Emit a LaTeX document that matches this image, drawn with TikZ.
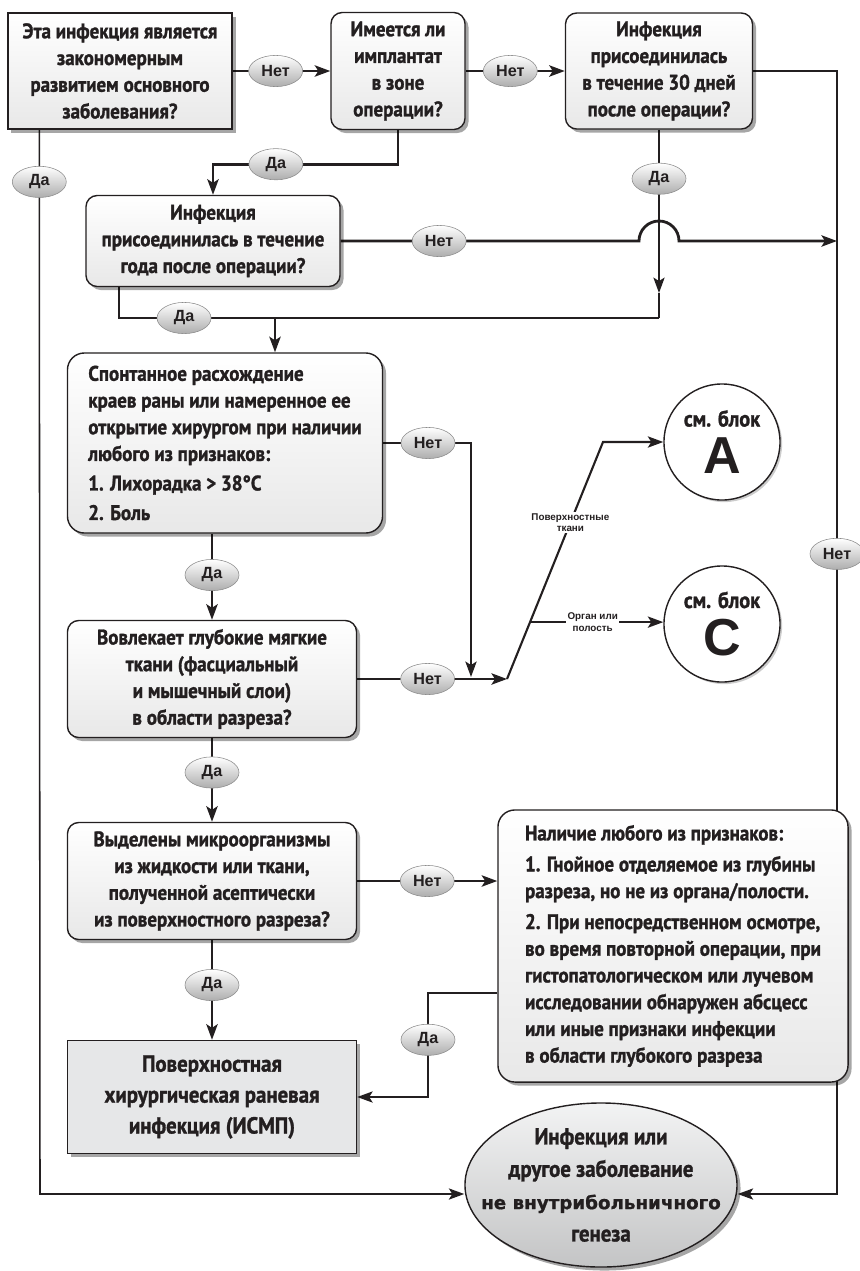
\documentclass[tikz,border=0pt]{standalone}
\usepackage{fontspec}
\newfontfamily\boxfont{PT Sans}[FakeStretch=0.9, FakeBold=1.3]
\newfontfamily\pillfont{Liberation Sans}
\newfontfamily\heavyfont{DejaVu Sans}[FakeBold=1]
\usetikzlibrary{arrows.meta, positioning, shapes.geometric, shadows, calc, backgrounds}
\definecolor{ink}{HTML}{231F20}
\definecolor{boxgray}{HTML}{E6E7E8}

\begin{document}
\begin{tikzpicture}[
  x=0.025cm, y=-0.025cm,
  boxshadow/.style={drop shadow={shadow xshift=2.5pt, shadow yshift=-2.5pt, fill=black, opacity=0.35}},
  qbox/.style={rectangle, draw=ink, line width=1pt, top color=white, bottom color=black!9, inner sep=0pt, align=center, text=ink, font=\boxfont\bfseries\fontsize{15}{19}\selectfont, boxshadow},
  rbox/.style={qbox, rounded corners=8pt},
  endnode/.style={ellipse, draw=ink, line width=1pt, top color=boxgray!50, bottom color=boxgray!85!black, inner xsep=-0.7cm, inner ysep=-0.5cm, align=center, text=ink, minimum width=6.8cm, minimum height=4.1cm, font=\boxfont\bfseries\fontsize{16.5}{23}\selectfont, boxshadow},
  refcirc/.style={circle, draw=ink, line width=1pt, fill=white, inner sep=0pt, minimum size=2.9cm, align=center, text=ink, font=\boxfont\bfseries\fontsize{16}{18}\selectfont, drop shadow={shadow xshift=1.5pt, shadow yshift=-1.5pt, fill=black, opacity=0.2}},
  pill/.style={ellipse, draw=black!45, line width=0.4pt, top color=white, bottom color=black!32, minimum width=1.35cm, minimum height=0.78cm, inner sep=0pt, text=ink, font=\pillfont\bfseries\fontsize{11.5}{12}\selectfont},
  tinylabel/.style={fill=white, inner sep=1pt, align=center, text=ink, font=\pillfont\bfseries\fontsize{7}{8}\selectfont},
  flowline/.style={draw=ink, line width=2pt},
  midline/.style={draw=ink, line width=1.5pt},
  thinline/.style={draw=ink, line width=1.1pt},
  arrowed/.style={-{Stealth[length=11pt, width=8pt, inset=2.5pt]}},
]
\useasboundingbox (0,0) rectangle (860,1271);

% Top row of questions
\node[qbox, minimum width=5.6cm, minimum height=2.9cm] (origin) at (120,71) {Эта инфекция является\\закономерным\\развитием основного\\заболевания?};
\node[rbox, minimum width=3.35cm, minimum height=2.925cm] (implant) at (398,71) {Имеется ли\\имплантат\\в зоне\\операции?};
\node[rbox, minimum width=4.675cm, minimum height=2.9cm] (month) at (659,71) {Инфекция\\присоединилась\\в течение 30 дней\\после операции?};

% Middle column
\node[rbox, minimum width=6.35cm, minimum height=2.275cm] (year) at (213,241) {Инфекция\\присоединилась в течение\\года после операции?};
\node[rbox, rounded corners=12pt, align=left, minimum width=7.875cm, minimum height=4.5cm] (wound) at (225,443) {Спонтанное расхождение\\краев раны или намеренное ее\\открытие хирургом при наличии\\любого из признаков:\\[2pt]1. Лихорадка > 38°C\\[2pt]2. Боль};
\node[rbox, minimum width=7.225cm, minimum height=2.925cm] (deep) at (212,679) {Вовлекает глубокие мягкие\\ткани (фасциальный\\и мышечный слои)\\в области разреза?};
\node[rbox, minimum width=7.225cm, minimum height=2.925cm] (culture) at (212,881) {Выделены микроорганизмы\\из жидкости или ткани,\\полученной асептически\\из поверхностного разреза?};
\node[qbox, top color=boxgray, bottom color=boxgray, minimum width=7.225cm, minimum height=2.825cm, font=\boxfont\bfseries\fontsize{16.5}{22}\selectfont] (superficial) at (212,1097) {Поверхностная\\хирургическая раневая\\инфекция (ИСМП)};

% Right side
\node[refcirc] (blockA) at (722,442) {см. блок\\[7pt]{\pillfont\bfseries\fontsize{37}{37}\selectfont A}};
\node[refcirc] (blockC) at (722,624) {см. блок\\[7pt]{\pillfont\bfseries\fontsize{37}{37}\selectfont C}};
\node[rbox, rounded corners=12pt, align=left, minimum width=8.75cm, minimum height=6.8cm] (signs) at (673,946) {Наличие любого из признаков:\\[3pt]1. Гнойное отделяемое из глубины\\разреза, но не из органа/полости.\\[3pt]2. При непосредственном осмотре,\\во время повторной операции, при\\гистопатологическом или лучевом\\исследовании обнаружен абсцесс\\или иные признаки инфекции\\в области глубокого разреза};
\node[endnode] (notnosocomial) at (601,1185) {Инфекция или\\другое заболевание\\{\heavyfont\bfseries\fontsize{13}{14}\selectfont не внутрибольничного}\\генеза};

% Junction points
\coordinate (leftrail) at (40,1194);
\coordinate (rightrail) at (837,71);
\coordinate (rightfoot) at (837,1194);
\coordinate (hopstart) at (639,241);
\coordinate (monthyes) at (659,293);
\coordinate (joinyes) at (659,318);
\coordinate (woundin) at (275,318);
\coordinate (woundno) at (471,443);
\coordinate (deepjoin) at (471,677);
\coordinate (split) at (507,679);
\coordinate (bend) at (603,442);
\coordinate (organ) at ($(split)!0.24!(bend)$);
\coordinate (signsyes) at (428,993);
\coordinate (supin) at (428,1097);

\begin{scope}[on background layer]
% top row
\draw[flowline, arrowed] (origin.east) -- node[pill, pos=0.44] {Нет} (implant.west);
\draw[flowline, arrowed] (implant.east) -- node[pill, pos=0.45] {Нет} (month.west);
\draw[thinline, arrowed] ([xshift=0.8cm]origin.south west) -- node[pill, pos=0.049] {Да} (leftrail) -- (leftrail -| notnosocomial.west);
\draw[flowline, arrowed] (implant.south) -- ++(0,34) -| node[pill, pos=0.33] {Да} (year.north);
\draw[thinline, arrowed] (month.south) -- node[pill, pos=0.3] {Да} (monthyes);
\draw[thinline] (monthyes) -- (joinyes);
\draw[thinline, arrowed] (month.east) -- (rightrail) -- node[pill, pos=0.43] {Нет} (rightfoot) -- (rightfoot -| notnosocomial.east);

% one year
\draw[flowline, arrowed] (year.east) -- node[pill, pos=0.33] {Нет} (hopstart) arc[start angle=180, end angle=360, radius=20] -- (hopstart -| rightrail);
\draw[midline] ([xshift=0.85cm]year.south west) |- node[pill, pos=0.56] {Да} (joinyes);
\draw[flowline, arrowed] (woundin) -- (woundin |- wound.north);

% wound and deep tissue
\draw[midline, arrowed] (wound.east) -- node[pill, pos=0.51] {Нет} (woundno) -- (deepjoin);
\draw[flowline, arrowed] (deep.north |- wound.south) -- node[pill, pos=0.48] {Да} (deep.north);
\draw[flowline, arrowed] (deep.east) -- node[pill, pos=0.47] {Нет} (split);
\draw[midline, arrowed] (split) -- node[tinylabel, pos=0.66] {Поверхностные\\ткани} (bend) -- (blockA.west);
\draw[midline, arrowed] (organ) -- node[tinylabel, pos=0.47] {Орган или\\полость} (organ -| blockC.west);

% culture
\draw[flowline, arrowed] (deep.south) -- node[pill, pos=0.41] {Да} (culture.north);
\draw[flowline, arrowed] (culture.south) -- node[pill, pos=0.45] {Да} (superficial.north);
\draw[flowline, arrowed] (culture.east) -- node[pill, pos=0.5] {Нет} (culture.east -| signs.west);
\draw[thinline, arrowed] (signsyes -| signs.west) -- (signsyes) -- node[pill, pos=0.45] {Да} (supin) -- (supin -| superficial.east);
\end{scope}
\end{tikzpicture}
\end{document}
